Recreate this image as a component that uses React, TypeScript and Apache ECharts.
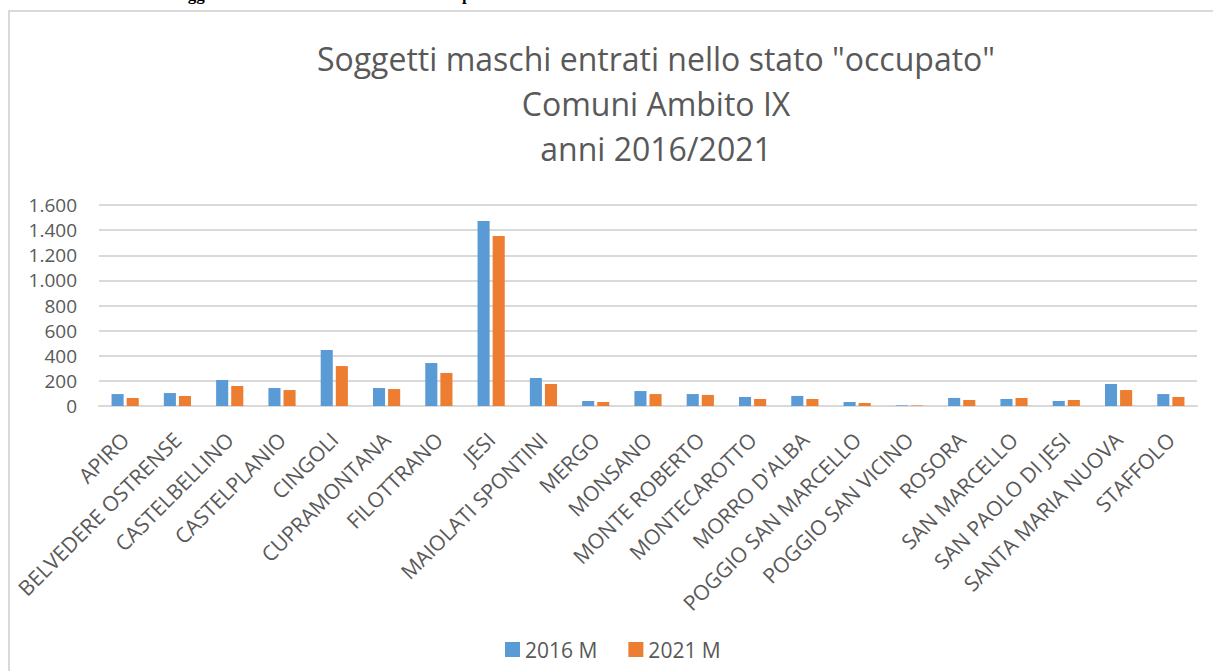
import React, { useEffect, useRef } from "react";
import * as echarts from "echarts";

const categories = [
  "APIRO", "BELVEDERE OSTRENSE", "CASTELBELLINO", "CASTELPLANIO", "CINGOLI",
  "CUPRAMONTANA", "FILOTTRANO", "JESI", "MAIOLATI SPONTINI", "MERGO", "MONSANO",
  "MONTE ROBERTO", "MONTECAROTTO", "MORRO D'ALBA", "POGGIO SAN MARCELLO",
  "POGGIO SAN VICINO", "ROSORA", "SAN MARCELLO", "SAN PAOLO DI JESI",
  "SANTA MARIA NUOVA", "STAFFOLO",
];
const values2016 = [95, 103, 207, 143, 446, 143, 342, 1473, 223, 40, 119, 95, 72, 80, 32, 5, 64, 56, 40, 175, 95];
const values2021 = [64, 80, 159, 127, 318, 135, 263, 1353, 175, 32, 95, 88, 56, 56, 24, 4, 48, 64, 48, 127, 72];
const seriesNames = ["2016 M", "2021 M"];
const titleLines = ['Soggetti maschi entrati nello stato "occupato"', "Comuni Ambito IX", "anni 2016/2021"];
const headerText = 'Grafico 10 - Numero soggetti maschi entrati nello stato "occupato" Comuni Ambito IX anni 2016/2021';

const FONT = "'Open Sans', 'Noto Sans', sans-serif";
const GREY = "#595959";

export default function App() {
  const ref = useRef<HTMLDivElement>(null);
  useEffect(() => {
    document.body.style.margin = "0";
    const chart = echarts.init(ref.current!, null, { renderer: "svg" });
    chart.setOption({
      animation: false,
      backgroundColor: "#ffffff",
      title: {
        text: titleLines.join("\n"),
        left: 651,
        textAlign: "center",
        top: 31,
        textStyle: {
          fontFamily: FONT,
          fontWeight: "normal",
          fontSize: 32,
          lineHeight: 45,
          color: GREY,
        },
      },
      graphic: [
        {
          type: "rect",
          shape: { x: 9, y: 11, width: 1220, height: 700 },
          style: { fill: "none", stroke: "#d9d9d9", lineWidth: 2 },
          silent: true,
        },
        {
          type: "text",
          x: 18,
          y: 3,
          style: {
            text: headerText,
            font: "bold 17px 'Liberation Serif', serif",
            fill: "#000",
            textVerticalAlign: "bottom",
          },
          silent: true,
        },
      ],
      legend: {
        data: seriesNames,
        left: 500,
        top: 634,
        itemWidth: 15,
        itemHeight: 15,
        itemGap: 31,
        icon: "rect",
        textStyle: { fontFamily: FONT, fontSize: 21, color: GREY },
      },
      grid: { left: 99, right: 16, top: 205, bottom: 265, containLabel: false },
      xAxis: {
        type: "category",
        data: categories,
        axisLine: { lineStyle: { color: "#d9d9d9", width: 2 } },
        axisTick: { show: false },
        axisLabel: {
          rotate: 45,
          interval: 0,
          margin: 30,
          fontFamily: FONT,
          fontSize: 21,
          color: GREY,
        },
      },
      yAxis: {
        type: "value",
        min: 0,
        max: 1600,
        interval: 200,
        axisLine: { show: false },
        axisTick: { show: false },
        splitLine: { lineStyle: { color: "#d9d9d9", width: 2 } },
        axisLabel: {
          margin: 22,
          fontFamily: FONT,
          fontSize: 19,
          lineHeight: 19,
          color: GREY,
          formatter: (v: number) => v.toLocaleString("it-IT"),
        },
      },
      series: [
        {
          name: seriesNames[0],
          type: "bar",
          data: values2016,
          itemStyle: { color: "#5b9bd5" },
          barGap: "25%",
          barCategoryGap: "48%",
        },
        {
          name: seriesNames[1],
          type: "bar",
          data: values2021,
          itemStyle: { color: "#ed7d31" },
          barGap: "25%",
          barCategoryGap: "48%",
        },
      ],
    });
    return () => chart.dispose();
  }, []);
  return <div ref={ref} style={{ position: "absolute", left: 0, top: 0, width: 1213, height: 671 }} />;
}
